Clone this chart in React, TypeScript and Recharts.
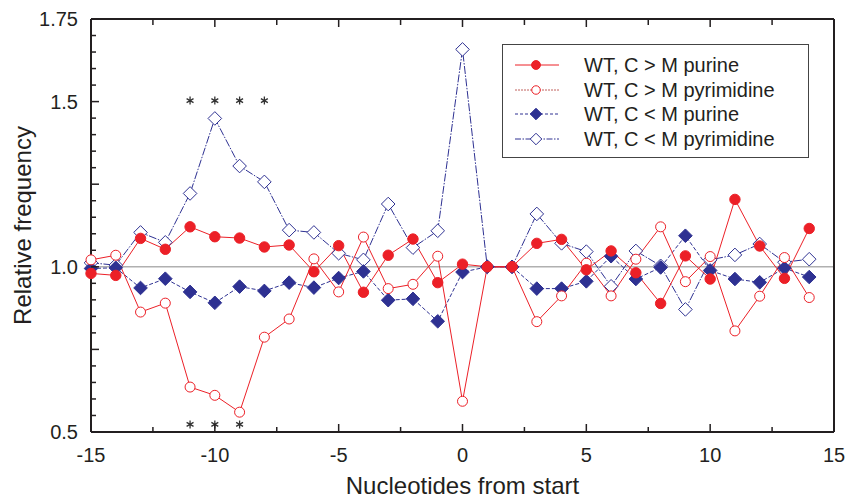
import React from 'react';
import { ComposedChart, Line, Scatter, XAxis, YAxis, ReferenceLine, Legend, Label } from 'recharts';

// positions relative to the start codon
const positions = [-15, -14, -13, -12, -11, -10, -9, -8, -7, -6, -5, -4, -3, -2, -1, 0, 1, 2, 3, 4, 5, 6, 7, 8, 9, 10, 11, 12, 13, 14];

const cmPurine = [0.98, 0.974, 1.086, 1.053, 1.121, 1.091, 1.087, 1.06, 1.066, 0.985, 1.064, 0.923, 1.035, 1.084, 0.952, 1.008, 1.0, 1.0, 1.071, 1.083, 0.991, 1.048, 0.982, 0.889, 1.033, 0.963, 1.204, 1.063, 0.965, 1.116];
const cmPyrimidine = [1.021, 1.035, 0.863, 0.89, 0.636, 0.611, 0.56, 0.787, 0.842, 1.024, 0.924, 1.09, 0.934, 0.947, 1.032, 0.593, 1.0, 1.0, 0.834, 0.912, 1.011, 0.912, 1.023, 1.121, 0.955, 1.031, 0.806, 0.911, 1.028, 0.907];
const mcPurine = [0.995, 0.997, 0.936, 0.964, 0.924, 0.891, 0.94, 0.927, 0.952, 0.937, 0.966, 0.986, 0.899, 0.903, 0.835, 0.984, 1.0, 1.0, 0.934, 0.934, 0.956, 1.032, 0.963, 0.998, 1.094, 0.989, 0.963, 0.953, 0.996, 0.969];
const mcPyrimidine = [1.012, 1.005, 1.104, 1.074, 1.222, 1.449, 1.305, 1.257, 1.111, 1.104, 1.041, 1.021, 1.19, 1.058, 1.109, 1.658, 1.0, 1.0, 1.16, 1.071, 1.046, 0.941, 1.048, 1.003, 0.871, 1.021, 1.036, 1.069, 1.014, 1.023];

// significance marks
const upperStars = [{ x: -11, y: 1.503 }, { x: -10, y: 1.503 }, { x: -9, y: 1.503 }, { x: -8, y: 1.503 }];
const lowerStars = [{ x: -11, y: 0.523 }, { x: -10, y: 0.523 }, { x: -9, y: 0.523 }];

const xTicks = [-15, -12.5, -10, -7.5, -5, -2.5, 0, 2.5, 5, 7.5, 10, 12.5, 15];
const xLabels: Record<string, string> = { '-15': '-15', '-10': '-10', '-5': '-5', '0': '0', '5': '5', '10': '10', '15': '15' };
const yTicks = [0.5, 0.55, 0.6, 0.65, 0.7, 0.75, 0.8, 0.85, 0.9, 0.95, 1.0, 1.05, 1.1, 1.15, 1.2, 1.25, 1.3, 1.35, 1.4, 1.45, 1.5, 1.55, 1.6, 1.65, 1.7, 1.75];
const yMajor = [0.5, 0.75, 1.0, 1.25, 1.5, 1.75];
const yLabels: Record<string, string> = { '0.50': '0.5', '1.00': '1.0', '1.50': '1.5', '1.75': '1.75' };

const RED = '#ec2027';
const BLUE = '#2e3192';
const AXIS = '#231f20';
const FONT = '"Liberation Sans", Arial, Helvetica, sans-serif';

const data = positions.map((x, i) => ({
  x,
  s1: cmPurine[i],
  s2: cmPyrimidine[i],
  s3: mcPurine[i],
  s4: mcPyrimidine[i],
}));

type Marker = 'circle' | 'openCircle' | 'diamond' | 'openDiamond';

const series = [
  { key: 's1', name: 'WT, C > M purine', color: RED, dash: undefined, legendDash: undefined, legendColor: RED, marker: 'circle' as Marker },
  { key: 's2', name: 'WT, C > M pyrimidine', color: RED, dash: undefined, legendDash: '2 1', legendColor: '#c0605c', marker: 'openCircle' as Marker },
  { key: 's3', name: 'WT, C < M purine', color: BLUE, dash: '4 2', legendDash: '3 2', legendColor: BLUE, marker: 'diamond' as Marker },
  { key: 's4', name: 'WT, C < M pyrimidine', color: BLUE, dash: '8 1.5 1.5 1.5', legendDash: '6 1.5 1.5 1.5', legendColor: BLUE, marker: 'openDiamond' as Marker },
];

function drawMarker(marker: Marker, cx: number, cy: number, color: string, size = 1, key?: string) {
  if (marker === 'circle') return <circle key={key} cx={cx} cy={cy} r={5.2 * size} fill={color} stroke={color} />;
  if (marker === 'openCircle') return <circle key={key} cx={cx} cy={cy} r={5 * size} fill="#fff" stroke={color} strokeWidth={1} />;
  const h = 6.8 * size;
  const pts = `${cx},${cy - h} ${cx + h},${cy} ${cx},${cy + h} ${cx - h},${cy}`;
  if (marker === 'diamond') return <polygon key={key} points={pts} fill={color} stroke={color} />;
  return <polygon key={key} points={pts} fill="#fff" stroke={color} strokeWidth={1} />;
}

const makeDot = (marker: Marker, color: string) => (props: any) => {
  const { cx, cy, index } = props;
  if (cx == null || cy == null) return <g key={`e-${index}`} />;
  return drawMarker(marker, cx, cy, color, 1, `${marker}-${index}`);
};

const Star = (props: any) => {
  const { cx, cy } = props;
  const r = 4;
  const dx = r * Math.cos(Math.PI / 6);
  const dy = r * Math.sin(Math.PI / 6);
  return (
    <path
      d={`M${cx},${cy - r}L${cx},${cy + r}M${cx - dx},${cy - dy}L${cx + dx},${cy + dy}M${cx - dx},${cy + dy}L${cx + dx},${cy - dy}`}
      stroke="#333"
      strokeWidth={1.3}
      fill="none"
    />
  );
};

const isXMajor = (v: number) => Math.abs(v % 5) < 1e-6;
const isYMajor = (v: number) => yMajor.some((m) => Math.abs(m - v) < 1e-6);

// ticks point into the plot, majors longer than minors
const BottomTick = (props: any) => {
  const { x, y, payload } = props;
  const v = payload.value;
  const major = isXMajor(v);
  const base = y - 16;
  const label = xLabels[String(v)];
  return (
    <g>
      <path d={`M${x},${base}V${base - (major ? 8 : 5)}`} stroke={AXIS} strokeWidth={1.5} fill="none" />
      {label && (
        <text x={x} y={y} dy="0.71em" textAnchor="middle" fontSize={20} fill="#231f20" fontFamily={FONT}>
          {label}
        </text>
      )}
    </g>
  );
};

const TopTick = (props: any) => {
  const { x, y, payload } = props;
  const major = isXMajor(payload.value);
  return <path d={`M${x},${y}V${y + (major ? 8 : 6)}`} stroke={AXIS} strokeWidth={1.5} fill="none" />;
};

const LeftTick = (props: any) => {
  const { x, y, payload } = props;
  const v = payload.value;
  const major = isYMajor(v);
  const base = x + 13;
  const label = yLabels[Number(v).toFixed(2)];
  return (
    <g>
      <path d={`M${base},${y}H${base + (major ? 8 : 5)}`} stroke={AXIS} strokeWidth={1.5} fill="none" />
      {label && (
        <text x={x} y={y} dy="0.36em" textAnchor="end" fontSize={20} fill="#231f20" fontFamily={FONT}>
          {label}
        </text>
      )}
    </g>
  );
};

const RightTick = (props: any) => {
  const { x, y, payload } = props;
  const major = isYMajor(payload.value);
  return <path d={`M${x},${y}H${x - (major ? 8 : 5)}`} stroke={AXIS} strokeWidth={1.5} fill="none" />;
};

const axisLine = { stroke: AXIS, strokeWidth: 2 };

const LegendBox = () => (
  <div
    style={{
      border: '1px solid #444',
      background: '#fff',
      width: 305,
      height: 112,
      boxSizing: 'content-box',
      position: 'relative',
      fontFamily: FONT,
    }}
  >
    {series.map((s, i) => (
      <div key={s.key} style={{ position: 'absolute', left: 0, top: 8 + i * 24.6, height: 24, width: 305 }}>
        <svg width={70} height={24} style={{ position: 'absolute', left: 0, top: 0 }}>
          <line x1={12} x2={56} y1={12} y2={12} stroke={s.legendColor} strokeWidth={1} strokeDasharray={s.legendDash} />
          {drawMarker(s.marker, 33, 12, s.color, 0.85)}
        </svg>
        <span style={{ position: 'absolute', left: 81, top: 0, lineHeight: '24px', fontSize: 20, color: '#231f20', whiteSpace: 'nowrap' }}>
          {s.name}
        </span>
      </div>
    ))}
  </div>
);

export default function App() {
  const drawOrder = [...series].reverse();
  return (
    <div style={{ position: 'absolute', left: 0, top: 0, background: '#fff' }}>
      <ComposedChart width={846} height={499} data={data} margin={{ top: 18, right: 11, left: 0, bottom: 0 }} style={{ fontFamily: FONT }}>
        <XAxis
          dataKey="x"
          type="number"
          domain={[-15, 15]}
          ticks={xTicks}
          interval={0}
          height={67}
          tickSize={0}
          tickMargin={16}
          tick={<BottomTick />}
          tickLine={false}
          axisLine={axisLine}
        >
          <Label value="Nucleotides from start" position="insideBottom" offset={5} fontSize={24} fill="#231f20" fontFamily={FONT} />
        </XAxis>
        <XAxis
          xAxisId="top"
          orientation="top"
          dataKey="x"
          type="number"
          domain={[-15, 15]}
          ticks={xTicks}
          interval={0}
          height={1}
          tickSize={0}
          tickMargin={0}
          tick={<TopTick />}
          tickLine={false}
          axisLine={axisLine}
        />
        <YAxis
          type="number"
          domain={[0.5, 1.75]}
          ticks={yTicks}
          interval={0}
          width={91}
          tickSize={0}
          tickMargin={13}
          tick={<LeftTick />}
          tickLine={false}
          axisLine={axisLine}
          label={{
            content: (p: any) => {
              const vb = p.viewBox || {};
              const cy = (vb.y ?? 19) + (vb.height ?? 413) / 2;
              return (
                <text x={22} y={cy} transform={`rotate(-90 22 ${cy})`} textAnchor="middle" dy="0.36em" fontSize={24} fill="#231f20" fontFamily={FONT}>
                  Relative frequency
                </text>
              );
            },
          }}
        />
        <YAxis
          yAxisId="right"
          orientation="right"
          type="number"
          domain={[0.5, 1.75]}
          ticks={yTicks}
          interval={0}
          width={1}
          tickSize={0}
          tickMargin={0}
          tick={<RightTick />}
          tickLine={false}
          axisLine={axisLine}
        />
        <ReferenceLine y={1} stroke="#b0b0b0" strokeWidth={1.5} />
        {drawOrder.map((s) => (
          <Line
            key={s.key}
            type="linear"
            dataKey={s.key}
            name={s.name}
            stroke={s.color}
            strokeWidth={1}
            strokeDasharray={s.dash}
            dot={makeDot(s.marker, s.color)}
            activeDot={false}
            isAnimationActive={false}
          />
        ))}
        <Scatter data={upperStars} dataKey="y" shape={<Star />} legendType="none" isAnimationActive={false} />
        <Scatter data={lowerStars} dataKey="y" shape={<Star />} legendType="none" isAnimationActive={false} />
        <Legend
          layout="vertical"
          align="center"
          verticalAlign="middle"
          content={<LegendBox />}
          wrapperStyle={{ left: 502, top: 44, width: 307, height: 114 }}
        />
      </ComposedChart>
    </div>
  );
}
